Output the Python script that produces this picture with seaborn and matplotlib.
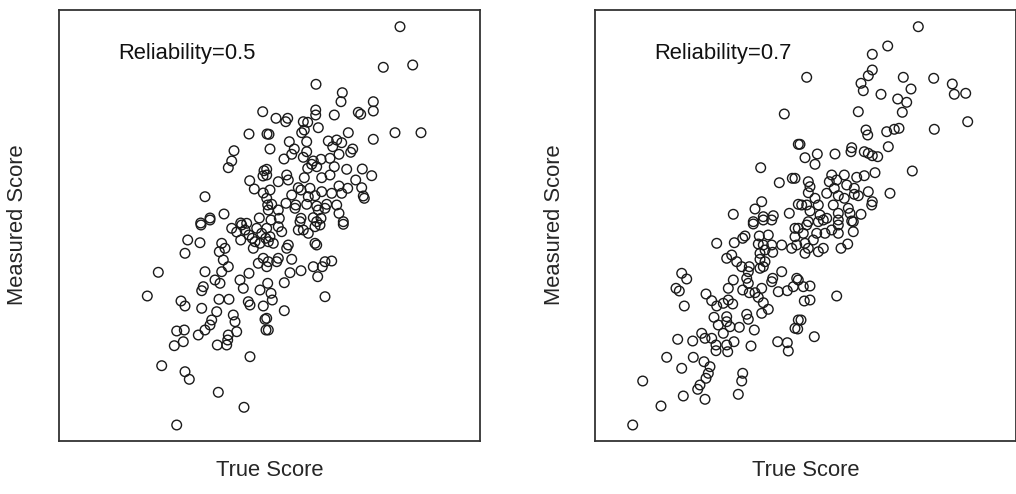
import matplotlib
matplotlib.use("Agg")
import matplotlib.pyplot as plt
import seaborn as sns
import pandas as pd
import numpy as np

# points, in picture pixels (x right, y down)
rel05_x = [262.7, 249, 267, 234, 231.7, 228.3, 264, 263, 249.7, 254.3, 263.3, 205, 267.7, 210, 224, 200.7, 240.7, 259.3,
           400, 383.3, 412.7, 316, 342.3, 341, 373.3, 373.3, 358.3, 360.7, 334.3, 315.7, 315.7, 276, 287.7, 285.7,
           303.3, 307.7, 318.3, 304.3, 301.7, 269, 395, 421, 348.3, 373.3, 289.3, 306.7, 328.3, 336.7, 341.7, 332.7,
           270, 294.3, 352.7, 350.7, 339, 306.7, 291.7, 284, 303.3, 330, 313.3, 321, 311.7, 316.7, 307.7, 334.3,
           346.7, 362.3, 371.7, 266.7, 266.7, 286.7, 288.3, 278.3, 304.3, 321.7, 330, 355.7, 298.3, 301, 270, 310,
           339, 347.7, 361.7, 363.3, 364.3, 321.7, 331.7, 341.7, 291.7, 308.3, 315, 266.7, 271.7, 286, 295.7, 306.7,
           316.7, 326.7, 336.7, 268.3, 278.3, 295, 318.3, 325, 339, 279.3, 301, 313.3, 321, 343.3, 271,
           201, 210, 187.7, 200, 185, 241.7, 245, 249, 240.7, 255, 261.7, 260, 221.7, 225, 219.3, 223.3, 228.3,
           221.7, 205, 158.3, 215, 220, 203.3, 201.7, 240, 249, 258.3, 263.3, 243.3, 260, 147.3, 181, 185, 201.7,
           219, 229, 248.3, 250, 263.3, 216.7, 233.3, 235, 211.7, 210, 205, 198.3, 176.7, 184.3, 183.3, 174.3,
           236.7, 228.3, 227.7, 226.7, 217.3, 265, 266, 250, 161.7, 185, 189.3, 218.3, 244, 176.7,
           343.3, 316.7, 300, 303.3, 308.3, 315, 320, 298.3, 278.3, 281.7, 270, 268.3, 273.3, 288.3, 286.7, 315,
           316.7, 291.7, 278.3, 276.7, 268.3, 266.7, 290, 301, 313.3, 325, 331.7, 322.3, 317.7, 284.3, 267.7, 271,
           272.3, 325, 284.3, 266.7, 268.3,
           246.7, 256.7, 266.7, 252.3, 265.7, 236.7, 231.7, 253.3]
rel05_y = [111.7, 134, 134, 150.7, 161, 167.7, 170.7, 176, 180.7, 189, 193, 196.7, 205, 218, 214, 223, 223, 218,
           26.7, 67.3, 65, 84.3, 92.7, 101.7, 101.7, 111, 112.3, 114.3, 115, 110, 115, 118.3, 118.3, 121.7,
           121.7, 122.3, 127.7, 130, 132.7, 134.3, 132.7, 132.7, 132.7, 139.3, 141.7, 141.7, 141, 140, 142.7, 146.7,
           149, 149, 149, 152.3, 154.3, 151.7, 154.3, 159, 157.3, 158.3, 161, 159.3, 164.3, 166.7, 168.3, 166.7,
           169.3, 169, 175.7, 169.3, 175, 175, 180, 181.7, 177.7, 177.7, 175, 180, 187.7, 190, 190, 188.3,
           186, 188.3, 187.7, 196, 198.3, 191.7, 193.3, 193.3, 195, 196.7, 195.7, 198.3, 204.3, 203.3, 205, 204.3,
           206, 204.3, 205, 210, 210, 208.3, 210, 208.3, 213.3, 218.3, 218.3, 217.7, 218.3, 221.7, 220,
           225, 220, 240, 242.7, 253.3, 225, 230, 235, 240, 241.7, 233.3, 243.3, 243.3, 248.3, 251.7, 260, 266.7,
           271.7, 271.7, 272.3, 280, 283.3, 286.7, 290.7, 280, 273.3, 263.3, 258.3, 288.3, 290, 296, 301, 306, 308.3,
           299.3, 299.3, 301.7, 305, 306, 311.7, 315, 321.7, 320, 325, 330, 335, 331, 330, 341.7, 345.7,
           331.7, 335, 340, 345, 345, 319.3, 330, 356.7, 365.7, 371.7, 379.3, 392.3, 407.3, 425,
           224.3, 221.7, 221.7, 230, 233.3, 226.7, 225, 230, 226.7, 231.7, 236.7, 241.7, 243.3, 245, 248.3, 243.3,
           245, 259.3, 258.3, 261.7, 261.7, 266.7, 272.7, 270.7, 266.7, 261.7, 261, 266.7, 276.7, 282.7, 283.3, 293.3,
           300, 296.7, 310.7, 318.3, 330,
           223.3, 228.3, 228.3, 238.3, 238.3, 232, 228.3, 248.3]

rel07_x = [784.3, 798.3, 760.7, 779.3, 792.3, 798.3, 761.7, 755, 763.3, 773.3, 733.3, 789.3, 753.3,
           918.3, 887.7, 872.3, 872.3, 868.3, 861, 863.3, 806.7, 903.3, 911, 881, 897.7, 906.7, 902.3, 933.7,
           952.3, 954.3, 965.7, 967.7, 934.3, 858.3, 866, 867.7, 886.7, 894.3, 899, 888.3, 800, 805, 817.3, 815,
           835, 851.7, 851, 864.3, 868.3, 872.3, 877.7, 912.3, 875, 864.3, 856.7, 844.3, 831.7, 795, 808.3, 810,
           829.3, 836.7, 846.7, 854.3, 890, 868.3, 854.3, 858.3, 834.3, 838.3, 826.7, 808.3, 815, 844.3, 872.3,
           871.7, 801.7, 806.7, 818.3, 833.3, 848.3, 810, 820, 838.3, 850, 861, 826.7, 838.3, 808.3, 851.7,
           753.3, 763.3, 771.7, 716.7, 734.3, 742.7, 745, 759.3, 768.3, 758.3, 763.3, 765, 771.7, 781.7, 791.7,
           795, 795, 772.7, 760, 760, 765, 763.3, 726.7, 731.7, 736.7, 741.7, 749.3, 748.3, 760, 781.7, 772.7,
           771.7, 796.7, 793.3, 787.3, 778.3, 733.3, 746.7, 748.3, 728.3, 742.7, 749.3, 755, 761.7, 681.7, 686.7,
           676, 679.3, 684.3, 706, 711.7, 716.7, 723.3, 728.3, 732.7, 758.3, 763.3, 768.3, 761.7, 746.7, 748.3,
           714, 726.7, 718.3, 726.7, 730, 739.3, 754.3, 795, 798.3, 701.7, 723.3, 677.7, 692.7, 705, 711.7, 716,
           716, 726.7, 734, 727.7, 751, 777.7, 787.3, 788.3, 666.7, 693.3, 704, 710, 681.7, 708.3, 706, 742.7,
           741.7, 642.7, 700, 697.7, 738.3, 683.3, 705, 661, 632.7,
           806.7, 798.3, 803.3, 816.7, 825, 831.7, 838.3, 838.3, 853.3, 853.3, 818.3, 823.3, 796.7, 805, 813.3,
           808.3, 805, 818.3, 823.3, 841, 847.7, 798.3, 803.3, 810, 836.7, 804.3, 810, 801, 797.7, 814.3]
rel07_y = [114, 144.3, 167.7, 182.7, 178.3, 204.3, 201.7, 209, 216.7, 215.7, 214.3, 213.3, 221.7,
           26.7, 46, 54.3, 70, 75.7, 83.3, 90.7, 77.3, 77.3, 89, 94.3, 99, 102.3, 112.3, 78.3,
           84, 94.3, 93.3, 121.7, 129.3, 111.7, 130, 135, 131.7, 129.3, 128.3, 146.7, 144.3, 157.7, 154, 164.3,
           154, 147.7, 151.7, 151.7, 153.3, 155.7, 156.7, 171, 172.7, 175.7, 177.3, 175, 175, 178.3, 181.7, 186.7,
           181.7, 180, 185, 188.3, 193.3, 191.7, 194.3, 195.7, 188.3, 195.7, 193.3, 192.7, 198.3, 198.3, 201.7,
           205, 205, 205, 205, 205, 208.3, 211, 215, 213.3, 213.3, 214.3, 218.3, 220, 221.7, 221,
           224, 220, 220, 243.3, 242.7, 238.3, 236, 236, 235, 244, 245, 250, 245, 245, 248.3,
           236.7, 228.3, 252.3, 253.3, 259.3, 261.7, 266.7, 258.3, 255, 261.7, 266.7, 266.7, 271.7, 268.3, 271.7, 278.3,
           281.7, 278.3, 286.7, 290.7, 291.7, 280, 278.3, 283.3, 288.3, 290, 292.7, 292.7, 288.3, 273.3, 279,
           288.3, 291, 306, 294, 300.7, 306, 303.3, 300, 304, 297.3, 302.7, 309.3, 313.3, 314.3, 319.3,
           317.3, 316.7, 325, 321.7, 326.7, 327.3, 330, 328.3, 320, 333.3, 333.3, 339.3, 341, 338.3, 338.3, 345,
           350.7, 345, 341.7, 351.7, 346, 341.7, 342.7, 351, 357.3, 357.3, 361.7, 366.7, 368.3, 373.3, 378.3, 373.3,
           381, 381, 385, 389.3, 394.3, 396, 399.3, 406, 425,
           225, 228.3, 233.3, 233.3, 233.3, 230, 225, 233.3, 231.7, 221.7, 221.7, 220, 245, 243.3, 240,
           248.3, 253.3, 251.7, 248.3, 248.3, 244, 280, 286.7, 286, 296, 301, 300, 320, 329, 336.7]

panel_labels = ["Reliability=0.5", "Reliability=0.7"]
x_label = "True Score"
y_label = "Measured Score"

W, H = 1016, 494
fig = plt.figure(figsize=(W / 100, H / 100), dpi=100)
sns.set_style("white")
plt.rcParams["font.family"] = ["Liberation Sans", "DejaVu Sans"]

# (left, right) of each plotting box in picture pixels
boxes = [(59, 480), (595, 1016)]
top, bottom = 10, 441

panels = [(rel05_x, rel05_y), (rel07_x, rel07_y)]
for (xs, ys), (left, right), label in zip(panels, boxes, panel_labels):
    ax = fig.add_axes([left / W, (H - bottom) / H, (right - left) / W, (bottom - top) / H])
    df = pd.DataFrame({"true": xs, "measured": ys})
    sns.scatterplot(data=df, x="true", y="measured", ax=ax, marker="o", s=48,
                    facecolors="none", edgecolor="#1a1a1a", linewidth=1.0)
    ax.set_xlim(left, right)
    ax.set_ylim(bottom, top)
    ax.set_xticks([])
    ax.set_yticks([])
    ax.set_xlabel("")
    ax.set_ylabel("")
    for sp in ax.spines.values():
        sp.set_color("#333333")
        sp.set_linewidth(1.3)
    ax.text(left + 59, 53, label, fontsize=15.8, ha="left", va="center", color="#111111")
    fig.text((left + right) / 2 / W, 1 - 470 / H, x_label, fontsize=15.8, ha="center", va="center")
    fig.text((left - 41) / W, 1 - 225 / H, y_label, fontsize=15.8, ha="center", va="center", rotation=90)

fig.savefig("out.png", dpi=100)
